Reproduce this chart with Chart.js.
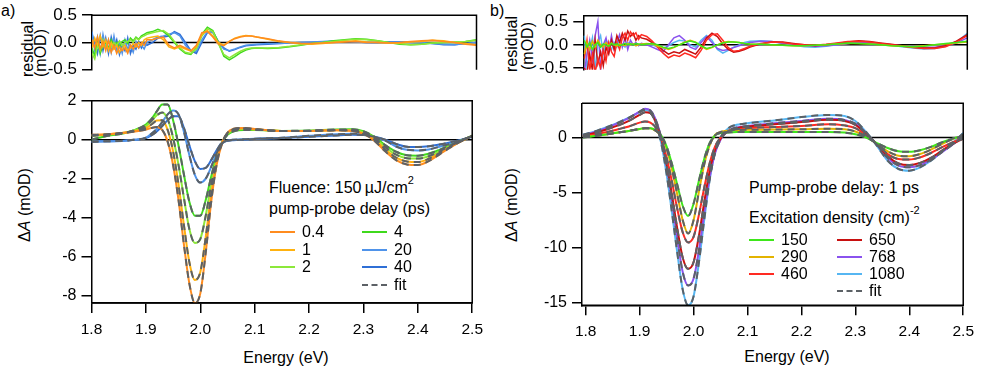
<!DOCTYPE html>
<html>
<head>
<meta charset="utf-8">
<script src="https://cdn.jsdelivr.net/npm/chart.js@4.4.1/dist/chart.umd.min.js"></script>
<style>
  body { margin: 0; background: #fff; }
  #fig { position: relative; width: 981px; height: 369px; overflow: hidden;
         font-family: "Liberation Sans", Arial, Helvetica, sans-serif; color: #000; }
  #fig canvas { position: absolute; }
  .t { position: absolute; font-size: 16px; line-height: 1; white-space: nowrap; }
  .rot { transform: translate(-50%, -50%) rotate(-90deg); }
  .mid { transform: translate(-50%, -50%); }
  .lv { transform: translateY(-50%); }
  .sw { position: absolute; height: 0; border-top: 2px solid; }
  .sup { font-size: 11px; position: relative; top: -9px; }
</style>
</head>
<body>
<div id="fig">
  <div class="t" style="left:1px;top:3px">a)</div>
  <div class="t" style="left:490px;top:3px">b)</div>

  <div class="t rot" style="left:28px;top:49px">residual</div>
  <div class="t rot" style="left:41px;top:53px">(mOD)</div>
  <div class="t rot" style="left:512px;top:44px">residual</div>
  <div class="t rot" style="left:528px;top:46px">(mOD)</div>

  <div class="t rot" style="left:25px;top:205px">&Delta;<i>A</i> (mOD)</div>
  <div class="t rot" style="left:512px;top:205px">&Delta;<i>A</i> (mOD)</div>

  <div class="t mid" style="left:286px;top:358px">Energy (eV)</div>
  <div class="t mid" style="left:787px;top:357px">Energy (eV)</div>

  <div class="t lv" style="left:269px;top:188px">Fluence: 150&#8201;&micro;J/cm<span class="sup">2</span></div>
  <div class="t lv" style="left:269px;top:209px">pump-probe delay (ps)</div>
  <div class="t lv" style="left:749px;top:188px">Pump-probe delay: 1 ps</div>
  <div class="t lv" style="left:749px;top:218px">Excitation density (cm)<span class="sup">-2</span></div>
</div>

<script>
// Panel a: fluence 150 uJ/cm2, spectra at several pump-probe delays
const energyA = [1.80, 1.83, 1.86, 1.88, 1.90, 1.91, 1.92, 1.93, 1.94, 1.95, 1.96, 1.97, 1.98, 1.99,
  2.00, 2.01, 2.02, 2.03, 2.04, 2.05, 2.06, 2.08, 2.10, 2.15, 2.20, 2.25, 2.28, 2.30,
  2.32, 2.34, 2.36, 2.38, 2.40, 2.42, 2.44, 2.46, 2.48, 2.50];
const delaysA = ['0.4', '1', '2', '4', '20', '40'];
const dA_04 = [0.25, 0.28, 0.35, 0.42, 0.52, 0.6, 0.65, 0.5, -0.1, -1.3, -3.1, -5.4, -7.4, -8.4,
  -7.9, -5.8, -3.2, -1.3, -0.2, 0.35, 0.55, 0.6, 0.55, 0.45, 0.45, 0.48, 0.45, 0.3,
  -0.05, -0.6, -1.05, -1.27, -1.3, -1.1, -0.75, -0.4, -0.08, 0.2];
const dA_1 = [0.22, 0.27, 0.35, 0.45, 0.6, 0.78, 0.98, 1.0, 0.5, -0.6, -2.3, -4.4, -6.3, -7.2,
  -6.8, -5.0, -2.8, -1.1, -0.15, 0.35, 0.52, 0.58, 0.53, 0.45, 0.45, 0.48, 0.46, 0.32,
  0.0, -0.5, -0.92, -1.12, -1.15, -0.98, -0.68, -0.36, -0.07, 0.2];
const dA_2 = [0.2, 0.25, 0.35, 0.48, 0.7, 0.95, 1.25, 1.4, 1.05, 0.1, -1.3, -3.0, -4.6, -5.3,
  -5.1, -3.9, -2.3, -0.95, -0.15, 0.3, 0.48, 0.55, 0.52, 0.45, 0.45, 0.5, 0.5, 0.38,
  0.08, -0.38, -0.77, -0.95, -0.97, -0.85, -0.6, -0.32, -0.06, 0.2];
const dA_4 = [0.0, 0.2, 0.33, 0.5, 0.78, 1.05, 1.45, 1.8, 1.8, 1.0, -0.3, -1.8, -3.2, -3.9,
  -3.9, -3.1, -1.9, -0.85, -0.15, 0.25, 0.42, 0.5, 0.5, 0.45, 0.47, 0.52, 0.53, 0.43,
  0.15, -0.28, -0.62, -0.8, -0.82, -0.72, -0.52, -0.28, -0.04, 0.2];
const dA_20 = [-0.1, -0.08, -0.05, 0.0, 0.1, 0.3, 0.55, 0.9, 1.3, 1.5, 1.3, 0.4, -0.8, -1.8,
  -2.2, -2.0, -1.4, -0.7, -0.2, -0.05, 0.0, 0.02, 0.05, 0.1, 0.2, 0.28, 0.3, 0.28,
  0.15, -0.05, -0.35, -0.52, -0.55, -0.5, -0.36, -0.2, -0.02, 0.18];
const dA_40 = [-0.1, -0.08, -0.05, 0.0, 0.08, 0.22, 0.42, 0.7, 1.0, 1.2, 1.2, 0.6, -0.3, -1.1,
  -1.5, -1.45, -1.05, -0.55, -0.15, -0.05, -0.03, 0.0, 0.03, 0.08, 0.15, 0.22, 0.25, 0.24,
  0.15, 0.0, -0.22, -0.36, -0.38, -0.34, -0.25, -0.13, 0.0, 0.15];

const resEnergyA = [1.800, 1.805, 1.810, 1.815, 1.820, 1.825, 1.830, 1.835, 1.840, 1.845, 1.850,
  1.855, 1.860, 1.865, 1.870, 1.875, 1.880, 1.885, 1.890, 1.895, 1.900,
  1.91, 1.92, 1.93, 1.94, 1.95, 1.96, 1.97, 1.98, 1.99, 2.00, 2.01, 2.02, 2.03, 2.04, 2.05,
  2.06, 2.07, 2.08, 2.09, 2.10, 2.12, 2.14, 2.16, 2.18, 2.20, 2.22, 2.24, 2.26, 2.28, 2.30,
  2.32, 2.34, 2.36, 2.38, 2.40, 2.42, 2.44, 2.46, 2.48, 2.50];
const rA_04 = [0.05, -0.1, 0.1, -0.12, 0.02, -0.15, 0.05, -0.18, -0.05, -0.2, -0.08, -0.15, -0.1, -0.2,
  -0.05, -0.12, -0.02, -0.1, 0.0, -0.05, 0.05,
  0.05, 0.08, 0.1, -0.05, -0.1, -0.05, -0.1, -0.15, -0.05, 0.18, 0.2, 0.1, -0.03, -0.06, 0.02,
  0.07, 0.1, 0.12, 0.12, 0.1, 0.07, 0.03, 0.0, -0.02, -0.02, -0.01, 0.0, 0.01, 0.02, 0.0,
  0.0, -0.01, 0.0, 0.02, 0.03, 0.04, 0.02, 0.0, -0.03, -0.05];
const rA_1 = [-0.1, 0.08, -0.05, 0.12, -0.08, 0.05, -0.15, 0.0, -0.12, -0.05, -0.18, -0.1, -0.05, -0.15,
  -0.1, -0.02, -0.08, 0.0, -0.05, 0.05, 0.08,
  0.1, 0.12, 0.05, -0.08, -0.12, -0.08, -0.12, -0.16, -0.08, 0.15, 0.22, 0.12, 0.0, -0.05, 0.02,
  0.08, 0.11, 0.13, 0.12, 0.1, 0.06, 0.02, 0.0, -0.02, -0.03, -0.02, 0.0, 0.02, 0.03, 0.01,
  0.0, -0.01, -0.01, 0.01, 0.02, 0.04, 0.03, 0.0, -0.02, -0.04];
const rA_2 = [-0.2, -0.3, -0.05, -0.15, 0.05, -0.1, 0.02, -0.08, 0.0, -0.05, 0.03, -0.06, 0.0, 0.02,
  0.05, 0.0, 0.08, 0.05, 0.1, 0.12, 0.15,
  0.18, 0.2, 0.22, 0.15, 0.02, -0.1, -0.18, -0.2, -0.12, 0.12, 0.25, 0.2, -0.02, -0.22, -0.28,
  -0.22, -0.16, -0.12, -0.1, -0.1, -0.1, -0.09, -0.07, -0.04, -0.02, 0.0, 0.02, 0.04, 0.06, 0.05,
  0.03, 0.0, -0.02, -0.04, -0.03, -0.01, 0.0, 0.01, 0.02, 0.04];
const rA_4 = [-0.1, -0.25, 0.05, -0.2, -0.05, 0.0, -0.1, 0.05, -0.05, 0.0, -0.08, 0.02, 0.05, -0.02,
  0.08, 0.03, 0.1, 0.06, 0.12, 0.15, 0.18,
  0.2, 0.24, 0.2, 0.12, 0.0, -0.12, -0.2, -0.22, -0.1, 0.15, 0.28, 0.22, 0.0, -0.25, -0.32,
  -0.26, -0.19, -0.14, -0.11, -0.1, -0.11, -0.1, -0.08, -0.05, -0.02, 0.0, 0.03, 0.05, 0.07, 0.06,
  0.03, 0.0, -0.03, -0.04, -0.03, -0.01, 0.0, 0.0, 0.02, 0.05];
const rA_20 = [0.2, -0.15, 0.1, -0.2, 0.15, -0.1, 0.05, -0.18, 0.12, -0.15, 0.0, -0.2, 0.05, -0.12,
  -0.05, -0.18, 0.02, -0.1, -0.05, -0.12, 0.0,
  0.05, 0.1, 0.12, 0.15, 0.18, 0.12, -0.05, -0.16, -0.16, 0.05, 0.2, 0.18, 0.0, -0.12, -0.15,
  -0.12, -0.08, -0.05, -0.04, -0.03, -0.02, -0.02, -0.01, 0.0, 0.01, 0.02, 0.03, 0.02, 0.01, 0.0,
  -0.01, 0.0, 0.01, 0.0, 0.0, -0.02, -0.03, -0.04, -0.02, 0.0];
const rA_40 = [0.15, 0.0, -0.2, 0.12, -0.15, 0.08, -0.2, 0.1, -0.1, 0.05, -0.22, -0.05, -0.15, 0.08,
  -0.2, -0.05, -0.12, 0.02, -0.1, 0.0, -0.05,
  0.0, 0.08, 0.1, 0.12, 0.2, 0.15, 0.0, -0.15, -0.2, 0.0, 0.18, 0.2, 0.02, -0.1, -0.16,
  -0.13, -0.09, -0.06, -0.05, -0.04, -0.03, -0.02, -0.01, 0.0, 0.0, 0.01, 0.02, 0.02, 0.01, 0.0,
  0.0, 0.01, 0.01, 0.0, -0.01, -0.02, -0.04, -0.04, -0.02, 0.0];

// Panel b: delay 1 ps, several excitation densities
const energyB = [1.795, 1.82, 1.84, 1.86, 1.88, 1.90, 1.91, 1.92, 1.93, 1.94, 1.95, 1.96, 1.97, 1.98,
  1.99, 2.00, 2.01, 2.02, 2.03, 2.04, 2.05, 2.06, 2.07, 2.08, 2.10, 2.15, 2.20, 2.25, 2.28, 2.30,
  2.32, 2.34, 2.36, 2.38, 2.40, 2.42, 2.44, 2.46, 2.48, 2.50];
const densitiesB = ['150', '290', '460', '650', '768', '1080'];
const dB_150 = [0.0, 0.15, 0.3, 0.45, 0.6, 0.78, 0.85, 0.85, 0.65, 0.2, -0.8, -2.4, -4.3, -6.2,
  -7.1, -6.0, -3.9, -1.9, -0.5, 0.2, 0.4, 0.45, 0.48, 0.5, 0.5, 0.5, 0.5, 0.5, 0.45, 0.3,
  0.0, -0.5, -0.95, -1.25, -1.3, -1.15, -0.85, -0.45, -0.1, 0.1];
const dB_290 = [0.05, 0.15, 0.3, 0.45, 0.6, 0.78, 0.85, 0.85, 0.6, 0.1, -1.0, -2.9, -5.2, -7.5,
  -8.7, -7.5, -4.9, -2.4, -0.7, 0.25, 0.5, 0.6, 0.65, 0.68, 0.7, 0.72, 0.75, 0.8, 0.75, 0.55,
  0.1, -0.6, -1.25, -1.65, -1.7, -1.5, -1.1, -0.6, -0.15, 0.15];
const dB_460 = [0.1, 0.3, 0.5, 0.75, 1.0, 1.35, 1.45, 1.35, 0.9, -0.1, -1.8, -4.0, -6.5, -8.6,
  -9.5, -9.0, -7.0, -4.5, -2.3, -0.8, 0.0, 0.45, 0.65, 0.75, 0.85, 0.95, 1.05, 1.2, 1.1, 0.85,
  0.2, -0.6, -1.5, -1.95, -2.0, -1.8, -1.4, -0.9, -0.45, -0.05];
const dB_650 = [0.15, 0.45, 0.75, 1.1, 1.5, 2.05, 2.3, 2.2, 1.4, -0.1, -2.4, -5.2, -8.3, -10.9,
  -11.9, -11.3, -8.9, -5.8, -3.0, -1.1, -0.1, 0.45, 0.7, 0.85, 1.0, 1.2, 1.4, 1.6, 1.5, 1.15,
  0.35, -0.6, -1.7, -2.35, -2.5, -2.3, -1.85, -1.2, -0.6, -0.1];
const dB_768 = [0.2, 0.55, 0.9, 1.3, 1.75, 2.35, 2.6, 2.45, 1.6, 0.0, -2.5, -5.7, -9.2, -12.2,
  -13.4, -12.8, -10.2, -6.8, -3.6, -1.4, -0.2, 0.45, 0.75, 0.9, 1.05, 1.3, 1.5, 1.7, 1.6, 1.25,
  0.4, -0.65, -1.85, -2.55, -2.7, -2.5, -2.0, -1.35, -0.65, 0.1];
const dB_1080 = [0.25, 0.6, 0.95, 1.35, 1.8, 2.3, 2.5, 2.3, 1.3, -0.5, -3.3, -6.8, -10.5, -13.8,
  -15.2, -14.4, -11.3, -7.4, -3.8, -1.3, 0.0, 0.65, 1.0, 1.15, 1.3, 1.55, 1.85, 2.05, 1.95, 1.5,
  0.5, -0.75, -2.1, -2.85, -3.0, -2.7, -2.1, -1.3, -0.5, 0.4];

const resEnergyB = [1.795, 1.800, 1.805, 1.810, 1.815, 1.820, 1.825, 1.830, 1.835, 1.840, 1.845, 1.850,
  1.855, 1.860, 1.865, 1.870, 1.875, 1.880, 1.885, 1.890, 1.895, 1.900,
  1.91, 1.92, 1.93, 1.94, 1.95, 1.96, 1.97, 1.98, 1.99, 2.00, 2.01, 2.02, 2.03, 2.04, 2.05,
  2.06, 2.07, 2.08, 2.09, 2.10, 2.12, 2.14, 2.16, 2.18, 2.20, 2.22, 2.24, 2.26, 2.28, 2.30,
  2.32, 2.34, 2.36, 2.38, 2.40, 2.42, 2.44, 2.46, 2.48, 2.50];
const rB_150 = [0.1, -0.05, 0.05, -0.1, 0.0, 0.05, -0.05, 0.02, 0.0, -0.03, 0.03, 0.0, 0.02, -0.02,
  0.0, 0.03, 0.0, 0.02, 0.0, 0.03, 0.02, 0.0,
  0.02, 0.03, 0.0, -0.05, -0.08, -0.05, 0.0, 0.05, 0.08, 0.05, -0.02, -0.08, -0.05, 0.0, 0.04,
  0.06, 0.06, 0.05, 0.03, 0.02, 0.01, 0.0, -0.01, -0.02, -0.02, -0.01, 0.0, 0.02, 0.04, 0.03,
  0.02, 0.0, -0.02, -0.03, -0.04, -0.03, 0.0, 0.03, 0.05, 0.08];
const rB_290 = [-0.2, 0.05, -0.1, 0.08, -0.05, 0.1, 0.0, -0.05, 0.05, -0.02, 0.04, 0.0, -0.03, 0.02,
  0.0, -0.02, 0.03, 0.0, 0.02, -0.02, 0.0, 0.02,
  0.03, 0.02, -0.03, -0.06, -0.1, -0.06, 0.0, 0.06, 0.1, 0.06, -0.03, -0.1, -0.06, 0.0, 0.05,
  0.07, 0.06, 0.05, 0.03, 0.02, 0.01, 0.0, -0.01, -0.02, -0.02, -0.01, 0.0, 0.02, 0.03, 0.03,
  0.02, 0.0, -0.02, -0.03, -0.04, -0.02, 0.0, 0.02, 0.04, 0.06];
const rB_460 = [-0.3, 0.1, -0.55, -0.2, -0.6, -0.3, -0.5, -0.1, -0.35, 0.05, -0.15, -0.25, 0.05, -0.1,
  0.15, 0.25, 0.1, 0.28, 0.2, 0.26, 0.12, 0.22,
  0.18, 0.08, -0.05, -0.18, -0.28, -0.22, -0.25, -0.18, -0.22, -0.28, -0.12, 0.1, 0.22, 0.24, 0.1,
  -0.06, -0.14, -0.12, -0.08, -0.03, 0.03, 0.06, 0.05, 0.02, 0.0, -0.01, 0.01, 0.04, 0.07, 0.08,
  0.06, 0.03, 0.0, -0.03, -0.06, -0.08, -0.08, -0.04, 0.06, 0.2];
const rB_650 = [-0.5, -0.6, -0.2, -0.55, 0.1, -0.4, -0.15, -0.45, -0.05, -0.2, 0.1, -0.1, 0.2, 0.05,
  0.25, 0.1, 0.3, 0.18, 0.25, 0.1, 0.2, 0.15,
  0.12, 0.05, -0.02, -0.12, -0.2, -0.15, -0.18, -0.1, -0.15, -0.2, -0.05, 0.15, 0.25, 0.18, 0.02,
  -0.1, -0.16, -0.14, -0.1, -0.05, 0.02, 0.06, 0.06, 0.03, 0.0, -0.02, 0.0, 0.03, 0.06, 0.09,
  0.07, 0.04, 0.01, -0.02, -0.05, -0.07, -0.07, -0.02, 0.08, 0.22];
const rB_768 = [-0.6, -0.2, 0.1, -0.3, 0.2, 0.5, -0.55, 0.0, 0.15, -0.15, 0.2, -0.1, 0.05, 0.22,
  -0.05, 0.15, -0.1, 0.1, 0.0, 0.05, -0.02, 0.03,
  0.0, -0.05, -0.1, -0.15, 0.0, 0.15, 0.2, 0.1, -0.05, -0.1, 0.05, 0.18, 0.05, -0.08, -0.12,
  -0.1, -0.06, -0.02, 0.02, 0.05, 0.08, 0.07, 0.04, 0.01, -0.02, -0.03, -0.02, 0.0, 0.03, 0.05,
  0.04, 0.02, 0.0, -0.02, -0.04, -0.05, -0.05, -0.02, 0.04, 0.15];
const rB_1080 = [0.2, -0.5, -0.1, 0.15, -0.55, 0.05, 0.2, -0.2, 0.1, 0.0, -0.1, 0.05, -0.05, 0.1,
  0.0, -0.05, 0.05, 0.0, 0.02, -0.02, 0.0, 0.02,
  0.02, 0.0, -0.05, -0.08, -0.02, 0.05, 0.1, 0.08, 0.0, -0.05, 0.1, 0.2, 0.1, -0.1, -0.18,
  -0.12, -0.05, 0.0, 0.05, 0.08, 0.09, 0.07, 0.03, -0.01, -0.04, -0.05, -0.03, 0.0, 0.03, 0.05,
  0.04, 0.02, -0.01, -0.04, -0.07, -0.09, -0.08, -0.03, 0.06, 0.25];

const energyTicks = [1.8, 1.9, 2.0, 2.1, 2.2, 2.3, 2.4, 2.5];
const resTicks = [-0.5, 0.0, 0.5];
const mainTicksA = [-8, -6, -4, -2, 0, 2];
const mainTicksB = [-15, -10, -5, 0];

const colorsA = ['#ff8c1f', '#ffb20f', '#8ce83a', '#3fd91c', '#4f93ea', '#2f6fd6'];
const colorsB = ['#3ee61a', '#e3b300', '#ff2a22', '#c81010', '#8a52ee', '#56b6f2'];
const FIT = '#5c6166';
const FONT = '"Liberation Sans", Arial, Helvetica, sans-serif';

const fig = document.getElementById('fig');

function pts(xs, ys) {
  return xs.map((x, i) => ({ x: x, y: ys[i] }));
}

// frame round the plot area and the zero line
function framePlugin(withBottom) {
  return {
    id: 'frame',
    beforeDatasetsDraw(chart) {
      const { ctx, chartArea: a } = chart;
      const y0 = chart.scales.y.getPixelForValue(0);
      ctx.save();
      ctx.strokeStyle = '#000';
      ctx.lineWidth = 1.5;
      ctx.beginPath();
      ctx.moveTo(a.left, y0);
      ctx.lineTo(a.right, y0);
      ctx.stroke();
      ctx.restore();
    },
    afterDraw(chart) {
      const { ctx, chartArea: a } = chart;
      ctx.save();
      ctx.strokeStyle = '#000';
      ctx.lineWidth = 1.5;
      ctx.beginPath();
      ctx.moveTo(a.left, a.top);
      ctx.lineTo(a.right, a.top);
      ctx.lineTo(a.right, a.bottom);
      if (withBottom) ctx.lineTo(a.left, a.bottom);
      ctx.stroke();
      ctx.restore();
    }
  };
}

function axisStyle(tickLength) {
  return {
    grid: { display: true, drawOnChartArea: false, drawTicks: true, tickLength: tickLength,
            color: '#000', lineWidth: 1.5 },
    border: { display: true, color: '#000', width: 1.5 }
  };
}

function makeChart(box, xRange, yRange, yTicks, yFmt, datasets, xAxis) {
  const canvas = document.createElement('canvas');
  canvas.width = box.w;
  canvas.height = box.h;
  canvas.style.left = box.left + 'px';
  canvas.style.top = box.top + 'px';
  fig.appendChild(canvas);

  const x = {
    type: 'linear', min: xRange[0], max: xRange[1], display: !!xAxis,
    afterBuildTicks: s => { s.ticks = energyTicks.map(v => ({ value: v })); },
    ...axisStyle(10),
    ticks: { color: '#000', font: { family: FONT, size: 15.5 }, padding: 7, maxRotation: 0,
             autoSkip: false, callback: v => v.toFixed(1) }
  };
  if (xAxis) x.afterFit = s => { s.height = xAxis; };

  const y = {
    type: 'linear', min: yRange[0], max: yRange[1],
    afterBuildTicks: s => { s.ticks = yTicks.map(v => ({ value: v })); },
    afterFit: s => { s.width = box.yw; },
    ...axisStyle(10),
    ticks: { color: '#000', font: { family: FONT, size: box.fs }, padding: 5, callback: yFmt }
  };

  return new Chart(canvas, {
    type: 'line',
    data: { datasets: datasets },
    options: {
      responsive: false,
      animation: false,
      devicePixelRatio: 1,
      layout: { padding: { left: 0, top: box.pt, right: box.pr, bottom: box.pb } },
      plugins: { legend: { display: false }, tooltip: { enabled: false } },
      elements: { point: { radius: 0 } },
      scales: { x: x, y: y }
    },
    plugins: [framePlugin(!!xAxis)]
  });
}

function spectra(xs, series, colors) {
  const out = [];
  series.forEach((ys, i) => {
    out.push({ data: pts(xs, ys), borderColor: colors[i], borderWidth: 2, order: 2,
               cubicInterpolationMode: 'monotone', tension: 0.4 });
    out.push({ data: pts(xs, ys), borderColor: FIT, borderWidth: 2, borderDash: [7, 5], order: 1,
               cubicInterpolationMode: 'monotone', tension: 0.4 });
  });
  return out;
}

function residuals(xs, series, colors) {
  return series.map((ys, i) => ({ data: pts(xs, ys), borderColor: colors[i], borderWidth: 1.5,
                                  tension: 0 }));
}

const resFmt = v => v.toFixed(1);
const intFmt = v => String(v);

// residual a
makeChart({ left: 0, top: 0, w: 490, h: 85, yw: 92, pt: 14, pr: 13.5, pb: 14, fs: 17 },
  [1.8, 2.5], [-0.5, 0.5], resTicks, resFmt,
  residuals(resEnergyA, [rA_04, rA_1, rA_2, rA_4, rA_20, rA_40], colorsA), 0);

// spectra a
makeChart({ left: 0, top: 85, w: 490, h: 284, yw: 91.5, pt: 15.7, pr: 14, pb: 0, fs: 16 },
  [1.8, 2.5], [-8.38, 2], mainTicksA, intFmt,
  spectra(energyA, [dA_04, dA_1, dA_2, dA_4, dA_20, dA_40], colorsA), 66);

// residual b
makeChart({ left: 490, top: 0, w: 491, h: 85, yw: 93.3, pt: 15.7, pr: 13.7, pb: 13.3, fs: 17 },
  [1.7932, 2.5], [-0.54, 0.63], resTicks, resFmt,
  residuals(resEnergyB, [rB_150, rB_290, rB_460, rB_650, rB_768, rB_1080], colorsB), 0);

// spectra b
makeChart({ left: 490, top: 85, w: 491, h: 284, yw: 92, pt: 18.3, pr: 13.7, pb: 0, fs: 16 },
  [1.7932, 2.5], [-15.2, 3.1], mainTicksB, intFmt,
  spectra(energyB, [dB_150, dB_290, dB_460, dB_650, dB_768, dB_1080], colorsB), 63.7);

// legends: two columns of line samples plus the dashed fit entry
function legend(labels, colors, x0, x1, rows) {
  labels.forEach((lab, i) => {
    const col = i < 3 ? x0 : x1;
    const yc = rows[i % 3];
    const sw = document.createElement('div');
    sw.className = 'sw';
    sw.style.cssText = `left:${col}px;top:${yc - 1}px;width:25px;border-top-color:${colors[i]}`;
    fig.appendChild(sw);
    const t = document.createElement('div');
    t.className = 't lv';
    t.style.cssText = `left:${col + 32}px;top:${yc}px`;
    t.textContent = lab;
    fig.appendChild(t);
  });
  const fy = rows[2] + (rows[2] - rows[1]);
  const fs = document.createElement('div');
  fs.className = 'sw';
  fs.style.cssText = `left:${x1}px;top:${fy - 1}px;width:25px;border-top:2px dashed ${FIT}`;
  fig.appendChild(fs);
  const ft = document.createElement('div');
  ft.className = 't lv';
  ft.style.cssText = `left:${x1 + 32}px;top:${fy}px`;
  ft.textContent = 'fit';
  fig.appendChild(ft);
}

legend(delaysA, colorsA, 270, 362, [232, 249.5, 267]);
legend(densitiesB, colorsB, 749, 837, [240, 257, 274]);
</script>
</body>
</html>
